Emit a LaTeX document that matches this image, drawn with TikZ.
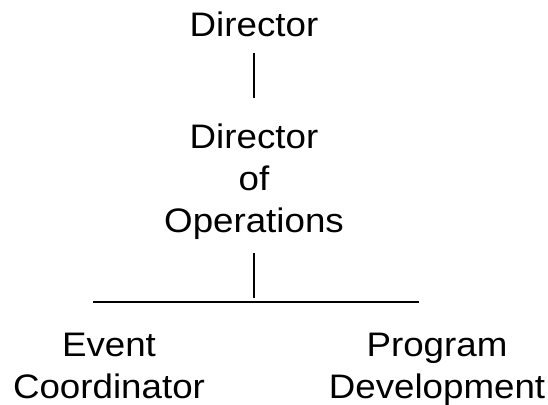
\documentclass[tikz,border=0pt]{standalone}
\usepackage{fontspec}
\setmainfont[FakeStretch=1.08]{Liberation Sans}
\usepackage{tikz}
\usetikzlibrary{positioning, calc}
\tikzset{
  title/.style={inner sep=0pt, align=center, font=\fontsize{34}{42}\selectfont, anchor=base},
  link/.style={line width=1.2pt, black},
}

\begin{document}
\begin{tikzpicture}[x=1pt, y=-1pt]
  \useasboundingbox (0,0) rectangle (548,404);
  % people (base = last line)
  \node[title] (dir)   at (254,37)  {Director};
  \node[title] (dop)   at (254,232) {Director\\of\\Operations};
  \node[title] (event) at (109,398) {Event\\Coordinator};
  \node[title] (prog)  at (437,398) {Program\\Development};
  % tree
  \coordinate (barL) at (93,302);
  \coordinate (barR) at (419,302);
  \draw[link, shorten <=15pt, shorten >=25pt] (dir.south) -- (dir.south |- dop.north);
  \draw[link, shorten <=14pt, shorten >=4pt] (dop.south) -- (dop.south |- barL);
  \draw[link] (barL) -- (barR);
\end{tikzpicture}
\end{document}
